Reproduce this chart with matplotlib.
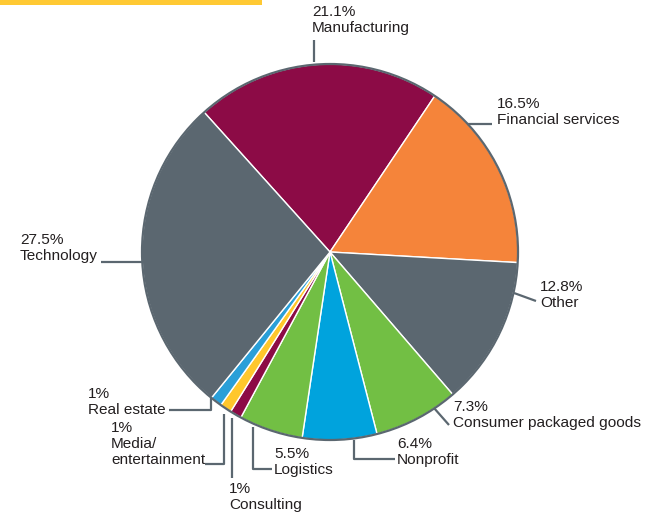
import matplotlib.pyplot as plt
from matplotlib.patches import Circle, Rectangle

# data, clockwise from Manufacturing
sectors = ['Manufacturing', 'Financial services', 'Other', 'Consumer packaged goods',
           'Nonprofit', 'Logistics', 'Consulting', 'Media/\nentertainment',
           'Real estate', 'Technology']
shares = [21.1, 16.5, 12.8, 7.3, 6.4, 5.5, 1, 1, 1, 27.5]
share_labels = ['21.1%', '16.5%', '12.8%', '7.3%', '6.4%', '5.5%', '1%', '1%', '1%', '27.5%']
colors = ['#8c0b46', '#f5843a', '#5b6770', '#72bf44', '#00a3dd', '#72bf44',
          '#8c0b46', '#ffc72c', '#2a9fd8', '#5b6770']

W, H = 646, 516
line_col = '#5b6770'
text_col = '#231f20'

# label layout in pixel coords (top-down): text anchor, leader path
layout = {
    'Manufacturing': ((312, 5), [(314, 62), (314, 40)]),
    'Financial services': ((497, 97), [(467, 124), (492, 124)]),
    'Other': ((540, 280), [(514, 293), (536, 301)]),
    'Consumer packaged goods': ((453, 400), [(434, 408), (449, 425)]),
    'Nonprofit': ((397, 437), [(354, 440), (354, 459), (395, 459)]),
    'Logistics': ((274, 447), [(253, 427), (253, 469), (272, 469)]),
    'Consulting': ((229, 482), [(232, 418), (232, 478)]),
    'Media/\nentertainment': ((111, 421), [(224, 414), (224, 464), (205, 464)]),
    'Real estate': ((88, 387), [(211, 398), (211, 410), (169, 410)]),
    'Technology': ((20, 233), [(143, 262), (101, 262)]),
}

fig = plt.figure(figsize=(W / 100, H / 100), dpi=100)
ax = fig.add_axes([0, 0, 1, 1])

center = (330, H - 252)
radius = 188

ax.pie(shares, colors=colors, startangle=132, counterclock=False,
       center=center, radius=radius, frame=True,
       wedgeprops=dict(edgecolor='white', linewidth=1))
ax.add_patch(Circle(center, radius, fill=False, edgecolor=line_col, linewidth=1.6, zorder=3))
ax.set_xlim(0, W)
ax.set_ylim(0, H)
ax.set_aspect('equal')
ax.axis('off')

for name, pct in zip(sectors, share_labels):
    (tx, ty), path = layout[name]
    xs = [p[0] for p in path]
    ys = [H - p[1] for p in path]
    ax.plot(xs, ys, color=line_col, linewidth=1.6, solid_capstyle='butt', zorder=4)
    ax.text(tx, H - ty, pct + '\n' + name, ha='left', va='top', fontsize=11.1,
            family='Liberation Sans', color=text_col, linespacing=1.2)

# yellow accent bar
fig.patches.append(Rectangle((0, 1 - 5 / H), 262 / W, 5 / H, transform=fig.transFigure,
                             facecolor='#ffc933', edgecolor='none'))

fig.savefig('out.png', dpi=100)
